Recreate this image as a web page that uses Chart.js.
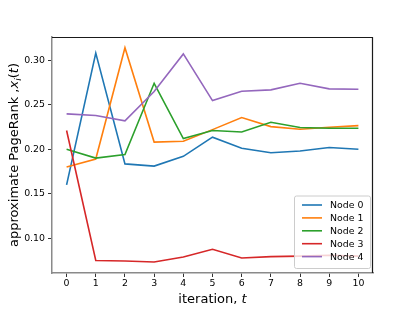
<!DOCTYPE html>
<html>
<head>
<meta charset="utf-8">
<script src="https://cdn.jsdelivr.net/npm/chart.js@4"></script>
<style>
  html, body { margin: 0; padding: 0; background: #fff; }
  canvas { display: block; }
</style>
</head>
<body>
<canvas id="prChart" width="415" height="312"></canvas>
<script>
// approximate PageRank per node over iterations
const iterations = [0, 1, 2, 3, 4, 5, 6, 7, 8, 9, 10];
const node0 = [0.160, 0.308, 0.1835, 0.181, 0.192, 0.2135, 0.201, 0.196, 0.198, 0.202, 0.200];
const node1 = [0.180, 0.189, 0.314, 0.208, 0.209, 0.222, 0.2355, 0.2254, 0.2225, 0.2247, 0.2265];
const node2 = [0.200, 0.190, 0.194, 0.274, 0.212, 0.221, 0.2194, 0.2303, 0.2243, 0.2236, 0.2236];
const node3 = [0.221, 0.075, 0.0745, 0.0734, 0.079, 0.0876, 0.0778, 0.0794, 0.080, 0.0809, 0.080];
const node4 = [0.2397, 0.2378, 0.2318, 0.2647, 0.307, 0.2546, 0.265, 0.2666, 0.274, 0.2678, 0.2674];
const seriesNames = ["Node 0", "Node 1", "Node 2", "Node 3", "Node 4"];
const yTicks = [0.10, 0.15, 0.20, 0.25, 0.30];
const xTicks = iterations;

const colors = ["#1f77b4", "#ff7f0e", "#2ca02c", "#d62728", "#9467bd"];
const FONT = "'DejaVu Sans', sans-serif";

const allSeries = [node0, node1, node2, node3, node4];
const datasets = allSeries.map((vals, i) => ({
  label: seriesNames[i],
  data: vals.map((v, j) => ({ x: iterations[j], y: v })),
  borderColor: colors[i],
  backgroundColor: colors[i],
  borderWidth: 1.6,
  pointRadius: 0,
  tension: 0,
  fill: false,
  order: 4 - i, // later nodes on top, like matplotlib
}));

// top/right frame, axis titles and in-axes legend
const decorations = {
  id: "decorations",
  afterDraw(chart) {
    const { ctx, chartArea: a } = chart;
    ctx.save();
    ctx.strokeStyle = "#1a1a1a";
    ctx.lineWidth = 1.2;
    ctx.beginPath();
    ctx.moveTo(a.left, a.top + 0.5);
    ctx.lineTo(a.right - 0.5, a.top + 0.5);
    ctx.lineTo(a.right - 0.5, a.bottom);
    ctx.stroke();

    // x title: "iteration, t"
    ctx.fillStyle = "#000";
    ctx.textBaseline = "alphabetic";
    const fs = 13;
    const p1 = "iteration, ";
    ctx.font = `${fs}px ${FONT}`;
    const w1 = ctx.measureText(p1).width;
    ctx.font = `italic ${fs}px ${FONT}`;
    const w2 = ctx.measureText("t").width;
    let x0 = (a.left + a.right) / 2 - (w1 + w2) / 2;
    ctx.font = `${fs}px ${FONT}`;
    ctx.textAlign = "left";
    ctx.fillText(p1, x0, 303);
    ctx.font = `italic ${fs}px ${FONT}`;
    ctx.fillText("t", x0 + w1, 303);

    // y title: "approximate PageRank ,x_i(t)"
    const parts = [
      { t: "approximate PageRank ,", f: `${fs}px ${FONT}`, dy: 0 },
      { t: "x", f: `italic ${fs}px ${FONT}`, dy: 0 },
      { t: "i", f: `italic ${fs * 0.7}px ${FONT}`, dy: 3 },
      { t: "(", f: `${fs}px ${FONT}`, dy: 0 },
      { t: "t", f: `italic ${fs}px ${FONT}`, dy: 0 },
      { t: ")", f: `${fs}px ${FONT}`, dy: 0 },
    ];
    let total = 0;
    parts.forEach((p) => { ctx.font = p.f; p.w = ctx.measureText(p.t).width; total += p.w; });
    ctx.translate(18, (a.top + a.bottom) / 2);
    ctx.rotate(-Math.PI / 2);
    let px = -total / 2;
    parts.forEach((p) => { ctx.font = p.f; ctx.fillText(p.t, px, p.dy); px += p.w; });
    ctx.setTransform(1, 0, 0, 1, 0, 0);

    // legend, lower right inside the axes
    const bw = 76, rowH = 12.9, bh = rowH * 5 + 8;
    const bx = a.right - bw - 3, by = a.bottom - bh - 5;
    ctx.fillStyle = "rgba(255,255,255,0.8)";
    ctx.strokeStyle = "#cccccc";
    ctx.lineWidth = 1;
    ctx.beginPath();
    ctx.roundRect(bx + 0.5, by + 0.5, bw, bh, 2);
    ctx.fill();
    ctx.stroke();
    ctx.font = `9.4px ${FONT}`;
    ctx.textBaseline = "middle";
    seriesNames.forEach((name, i) => {
      const cy = by + 9.5 + i * rowH;
      ctx.strokeStyle = colors[i];
      ctx.lineWidth = 1.6;
      ctx.beginPath();
      ctx.moveTo(bx + 8, cy);
      ctx.lineTo(bx + 28, cy);
      ctx.stroke();
      ctx.fillStyle = "#000";
      ctx.fillText(name, bx + 36, cy + 0.5);
    });
    ctx.restore();
  },
};

new Chart(document.getElementById("prChart"), {
  type: "line",
  data: { datasets },
  options: {
    responsive: false,
    animation: false,
    devicePixelRatio: 1,
    layout: { padding: { left: 0, right: 42, top: 37, bottom: 0 } },
    plugins: {
      legend: { display: false },
      tooltip: { enabled: false },
    },
    scales: {
      x: {
        type: "linear",
        min: -0.5,
        max: 10.5,
        afterBuildTicks: (s) => { s.ticks = xTicks.map((v) => ({ value: v })); },
        afterFit: (s) => { s.height = 39; },
        ticks: {
          color: "#000",
          font: { family: FONT, size: 9.4 },
          padding: 1,
          maxRotation: 0,
          autoSkip: false,
          callback: (v) => String(v),
        },
        grid: { display: true, drawOnChartArea: false, drawTicks: true, tickLength: 4, color: "#333", lineWidth: 1 },
        border: { display: true, color: "#8a8a8a", width: 1.5 },
      },
      y: {
        type: "linear",
        min: 0.061,
        max: 0.326,
        afterBuildTicks: (s) => { s.ticks = yTicks.map((v) => ({ value: v })); },
        afterFit: (s) => { s.width = 52; },
        ticks: {
          color: "#000",
          font: { family: FONT, size: 9.4 },
          padding: 3,
          callback: (v) => v.toFixed(2),
        },
        grid: { display: true, drawOnChartArea: false, drawTicks: true, tickLength: 4, color: "#333", lineWidth: 1 },
        border: { display: true, color: "#8a8a8a", width: 1.5 },
      },
    },
  },
  plugins: [decorations],
});
</script>
</body>
</html>
